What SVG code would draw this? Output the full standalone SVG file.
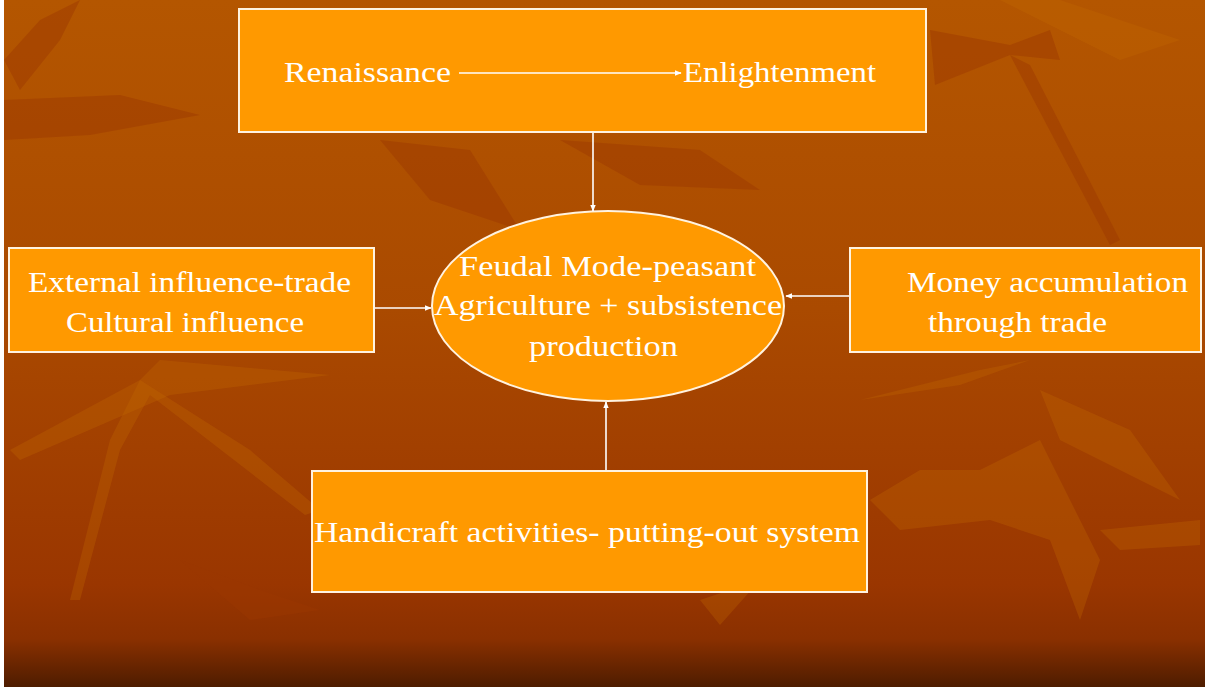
<svg xmlns="http://www.w3.org/2000/svg" width="1205" height="687" viewBox="0 0 1205 687">
<defs>
<linearGradient id="bg" x1="0" y1="0" x2="0" y2="1">
<stop offset="0" stop-color="#B45600"/>
<stop offset="0.45" stop-color="#AA4A00"/>
<stop offset="0.85" stop-color="#9A3600"/>
<stop offset="0.93" stop-color="#8A3000"/>
<stop offset="1" stop-color="#4E1C00"/>
</linearGradient>
<marker id="ah" viewBox="0 0 10 10" refX="9" refY="5" markerWidth="7" markerHeight="7" orient="auto" markerUnits="userSpaceOnUse">
<path d="M0,1 L10,5 L0,9 Z" fill="#FFFFFF"/>
</marker>
<style>
.box{fill:#FF9900;stroke:#FFF3E0;stroke-width:2}
.t{font-family:"Liberation Serif","Times New Roman",serif;font-size:29px;fill:#FFFFFF}
.c{stroke:#FFFFFF;stroke-width:1.6;fill:none;marker-end:url(#ah)}
.dk{fill:#9C3800;opacity:0.45}
.lt{fill:#C46A00;opacity:0.3}
</style>
</defs>
<rect x="0" y="0" width="1205" height="687" fill="#FFFFFF"/>
<rect x="4" y="0" width="1201" height="687" fill="url(#bg)"/>
<g id="background">
<path class="dk" d="M4,100 L120,95 L200,115 L90,135 L4,140 Z"/>
<path class="dk" d="M4,60 L40,20 L80,0 L60,40 L20,90 Z"/>
<path class="dk" d="M930,30 L1010,45 L1050,30 L1060,60 L1010,55 L935,85 Z"/>
<path class="dk" d="M1010,55 L1030,65 L1120,240 L1110,245 Z"/>
<path class="dk" d="M380,140 L470,150 L520,230 L430,200 Z"/>
<path class="dk" d="M560,140 L700,150 L760,190 L640,185 Z"/>
<path class="lt" d="M140,380 L160,360 L330,375 L170,395 L20,460 L10,450 Z"/>
<path class="lt" d="M140,380 L250,450 L320,510 L305,515 L150,395 L120,450 L80,600 L70,600 L110,440 Z"/>
<path class="lt" d="M870,500 L920,470 L980,470 L1040,440 L1100,560 L1080,620 L1050,540 L990,520 L900,530 Z"/>
<path class="lt" d="M1040,390 L1130,430 L1180,500 L1120,470 L1060,440 Z"/>
<path class="lt" d="M860,400 L980,370 L1030,360 L960,385 Z"/>
<path class="lt" d="M1100,530 L1200,520 L1200,545 L1120,550 Z"/>
<path class="lt" d="M1000,0 L1060,0 L1180,40 L1120,60 Z"/>
<path class="dk" d="M180,560 L260,590 L320,610 L250,620 Z"/>
<path class="lt" d="M700,600 L760,580 L720,625 Z"/>
</g>
<g id="top-box">
<rect class="box" x="239" y="9" width="687" height="123"/>
<text class="t" x="284" y="82" textLength="167" lengthAdjust="spacingAndGlyphs">Renaissance</text>
<text class="t" x="683" y="82" textLength="193" lengthAdjust="spacingAndGlyphs">Enlightenment</text>
</g>
<g id="left-box">
<rect class="box" x="9" y="248" width="365" height="104"/>
<text class="t" x="28" y="292" textLength="323" lengthAdjust="spacingAndGlyphs">External  influence-trade</text>
<text class="t" x="66" y="332" textLength="238" lengthAdjust="spacingAndGlyphs">Cultural  influence</text>
</g>
<g id="center-ellipse">
<ellipse cx="608" cy="306" rx="176" ry="95" fill="#FF9900" stroke="#FFF3E0" stroke-width="2"/>
<text class="t" x="459" y="276" textLength="297" lengthAdjust="spacingAndGlyphs">Feudal Mode-peasant</text>
<text class="t" x="434" y="315" textLength="348" lengthAdjust="spacingAndGlyphs">Agriculture + subsistence</text>
<text class="t" x="529" y="356" textLength="149" lengthAdjust="spacingAndGlyphs">production</text>
</g>
<g id="right-box">
<rect class="box" x="850" y="248" width="351" height="104"/>
<text class="t" x="907" y="292" textLength="281" lengthAdjust="spacingAndGlyphs">Money accumulation</text>
<text class="t" x="928" y="332" textLength="179" lengthAdjust="spacingAndGlyphs">through trade</text>
</g>
<g id="bottom-box">
<rect class="box" x="312" y="471" width="555" height="121"/>
<text class="t" x="314" y="542" textLength="546" lengthAdjust="spacingAndGlyphs">Handicraft activities- putting-out system</text>
</g>
<g id="connectors">
<line class="c" x1="459" y1="73" x2="681" y2="73"/>
<line class="c" x1="593" y1="133" x2="593" y2="211"/>
<line class="c" x1="375" y1="308" x2="431" y2="308"/>
<line class="c" x1="849" y1="296" x2="786" y2="296"/>
<line class="c" x1="606" y1="470" x2="606" y2="402"/>
</g>
</svg>
